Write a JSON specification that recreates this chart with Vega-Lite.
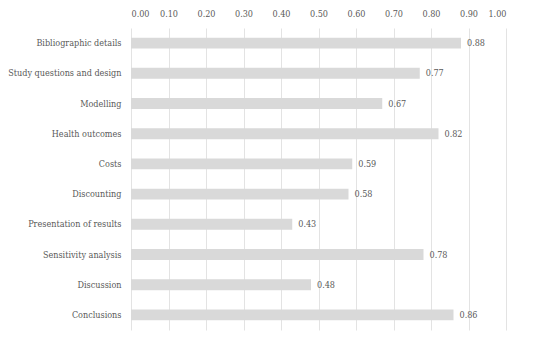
{
  "$schema": "https://vega.github.io/schema/vega-lite/v6.json",
  "width": 375,
  "height": 302,
  "autosize": {"type": "none"},
  "padding": {"left": 131, "top": 28, "right": 44, "bottom": 15},
  "background": "white",
  "config": {
    "view": {"stroke": null},
    "font": "DejaVu Serif Condensed",
    "axis": {"labelFont": "DejaVu Serif Condensed", "labelColor": "#595959", "labelFontSize": 9}
  },
  "data": {
    "values": [
      {"item": "Bibliographic details", "value": 0.88},
      {"item": "Study questions and design", "value": 0.77},
      {"item": "Modelling", "value": 0.67},
      {"item": "Health outcomes", "value": 0.82},
      {"item": "Costs", "value": 0.59},
      {"item": "Discounting", "value": 0.58},
      {"item": "Presentation of results", "value": 0.43},
      {"item": "Sensitivity analysis", "value": 0.78},
      {"item": "Discussion", "value": 0.48},
      {"item": "Conclusions", "value": 0.86}
    ]
  },
  "encoding": {
    "y": {
      "field": "item", "type": "nominal", "sort": null,
      "scale": {"paddingInner": 0.64, "paddingOuter": 0.32},
      "axis": {"title": null, "domain": false, "ticks": false, "labelPadding": 10, "grid": false}
    },
    "x": {
      "field": "value", "type": "quantitative",
      "scale": {"domain": [0, 1], "nice": false},
      "axis": {"orient": "top", "title": null, "format": ".2f", "values": [0,0.1,0.2,0.3,0.4,0.5,0.6,0.7,0.8,0.9,1.0], "domain": false, "ticks": false, "labelPadding": 10, "grid": true, "gridColor": "#e3e3e3", "gridWidth": 1}
    }
  },
  "layer": [
    {"mark": {"type": "bar", "color": "#d9d9d9"}},
    {
      "mark": {"type": "text", "align": "left", "dx": 6, "fontSize": 9, "color": "#595959", "font": "DejaVu Serif Condensed"},
      "encoding": {"text": {"field": "value", "type": "quantitative", "format": ".2f"}}
    }
  ]
}
